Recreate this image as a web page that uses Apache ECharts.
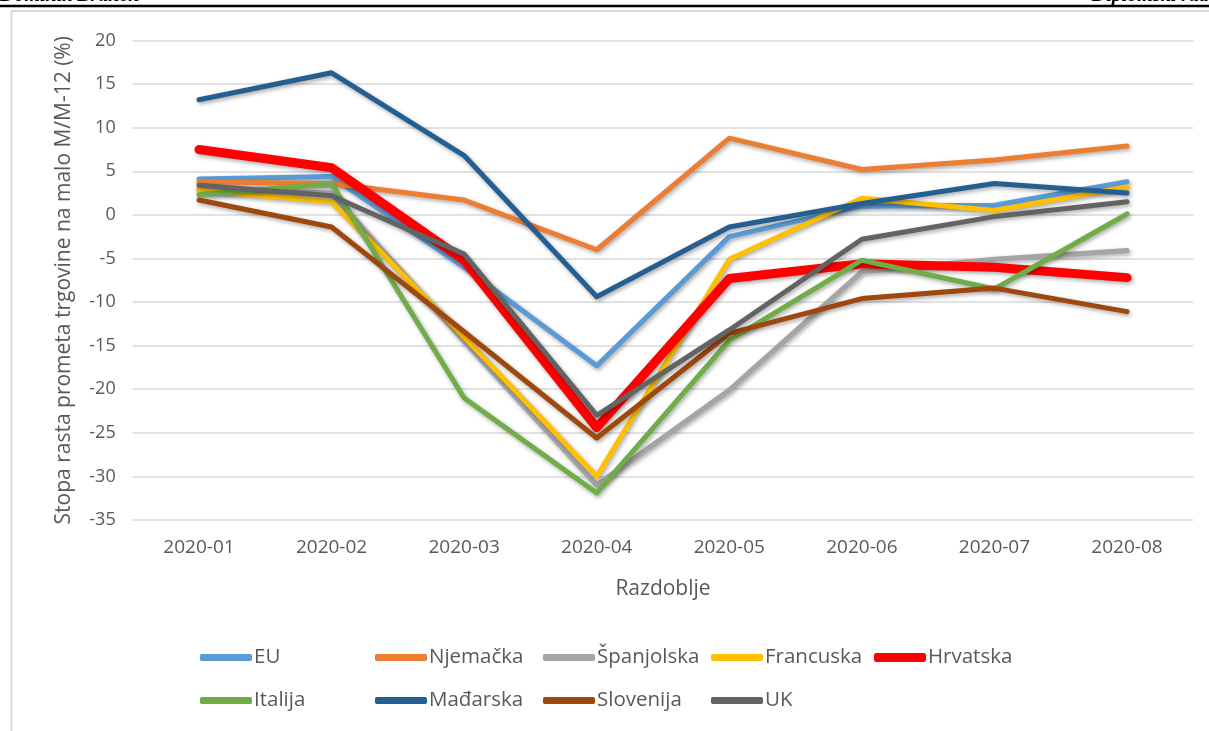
<!DOCTYPE html>
<html>
<head>
<meta charset="utf-8">
<script src="https://cdn.jsdelivr.net/npm/echarts@6/dist/echarts.min.js"></script>
<style>
html,body{margin:0;padding:0;background:#fff;}
#chart{width:1209px;height:731px;}
</style>
</head>
<body>
<div id="chart"></div>
<script>
const categories = ['2020-01','2020-02','2020-03','2020-04','2020-05','2020-06','2020-07','2020-08'];
const seriesNames = ['EU','Njemačka','Španjolska','Francuska','Hrvatska','Italija','Mađarska','Slovenija','UK'];
const EU = [4.1, 4.4, -6.0, -17.3, -2.5, 1.0, 1.1, 3.8];
const Njemacka = [3.8, 3.6, 1.7, -4.0, 8.8, 5.2, 6.3, 7.9];
const Spanjolska = [3.0, 2.5, -14.5, -31.0, -20.1, -6.5, -5.1, -4.1];
const Francuska = [2.8, 1.5, -14.0, -30.0, -5.1, 1.9, 0.5, 3.2];
const Hrvatska = [7.5, 5.4, -5.2, -24.4, -7.3, -5.6, -6.0, -7.2];
const Italija = [2.3, 3.6, -21.0, -31.9, -14.4, -5.2, -8.5, 0.1];
const Madarska = [13.2, 16.3, 6.8, -9.4, -1.4, 1.3, 3.6, 2.5];
const Slovenija = [1.7, -1.4, -13.4, -25.6, -13.6, -9.6, -8.4, -11.1];
const UK = [3.4, 2.2, -4.5, -23.0, -13.2, -2.8, -0.2, 1.5];
const yTicks = {min: -35, max: 20, interval: 5};
const yTitle = 'Stopa rasta prometa trgovine na malo M/M-12 (%)';
const xTitle = 'Razdoblje';

const seriesData = [EU, Njemacka, Spanjolska, Francuska, Hrvatska, Italija, Madarska, Slovenija, UK];
const colors = ['#5B9BD5','#ED7D31','#A5A5A5','#FFC000','#FF0000','#70AD47','#255E91','#9E480E','#636363'];
const widths = [5,5,5,5,9,5,5,5,5];

const FONT = 'Open Sans';
const txt = '#595959';

const chart = echarts.init(document.getElementById('chart'), null, {renderer:'canvas'});

// legend layout: columns & rows (Excel-like grid)
const colX = [200, 375, 543, 711, 874];
const rowY = [647, 690];
const legends = seriesNames.map((n, i) => {
  const col = i % 5, row = Math.floor(i / 5);
  return {
    data: [n],
    left: colX[col],
    top: rowY[row],
    padding: 0,
    icon: 'roundRect',
    itemWidth: 52,
    itemHeight: n === 'Hrvatska' ? 9 : 7,
    textStyle: {fontFamily: FONT, fontSize: 20.5, color: txt, padding: [0,0,0,-3]},
    selectedMode: false
  };
});

const option = {
  backgroundColor: '#fff',
  animation: false,
  color: colors,
  legend: legends,
  grid: {left: 132.7, right: 15.7, top: 40.5, bottom: 211, containLabel: false},
  xAxis: {
    type: 'category',
    data: categories,
    boundaryGap: true,
    axisLine: {show: false},
    axisTick: {show: false},
    axisLabel: {fontFamily: FONT, fontSize: 19, color: txt, margin: 18},
    name: xTitle,
    nameLocation: 'middle',
    nameGap: 59,
    nameTextStyle: {fontFamily: FONT, fontSize: 21, color: txt}
  },
  yAxis: {
    type: 'value',
    min: yTicks.min, max: yTicks.max, interval: yTicks.interval,
    axisLine: {show: false},
    axisTick: {show: false},
    axisLabel: {fontFamily: FONT, fontSize: 18, color: txt, margin: 17},
    splitLine: {lineStyle: {color: '#D9D9D9', width: 1.5}},
    name: yTitle,
    nameLocation: 'middle',
    nameGap: 58,
    nameRotate: 90,
    nameTextStyle: {fontFamily: FONT, fontSize: 21, color: txt}
  },
  series: seriesNames.map((n, i) => ({
    name: n,
    type: 'line',
    data: seriesData[i],
    showSymbol: false,
    symbol: 'none',
    z: 2 + i,
    lineStyle: {
      width: widths[i], color: colors[i], cap: 'round', join: 'round',
      shadowColor: 'rgba(0,0,0,0.35)', shadowBlur: 4, shadowOffsetX: 1.5, shadowOffsetY: 2
    },
    itemStyle: {color: colors[i]}
  })),
  graphic: [
    {type: 'line', shape: {x1: 0, y1: 6, x2: 1209, y2: 6}, style: {stroke: '#000', lineWidth: 2.5}, z: 10},
    {type: 'rect', shape: {x: 11.5, y: 11, width: 1400, height: 900}, style: {fill: 'none', stroke: '#D9D9D9', lineWidth: 2}, z: 1},
    {type: 'text', left: 0, top: -14, style: {text: 'Dominik Branch', font: 'italic bold 20px "Liberation Serif"', fill: '#000'}, z: 10},
    {type: 'text', right: 0, top: -14, style: {text: 'Diplomski rad', font: 'italic bold 20px "Liberation Serif"', fill: '#000'}, z: 10}
  ]
};
chart.setOption(option);
</script>
</body>
</html>
